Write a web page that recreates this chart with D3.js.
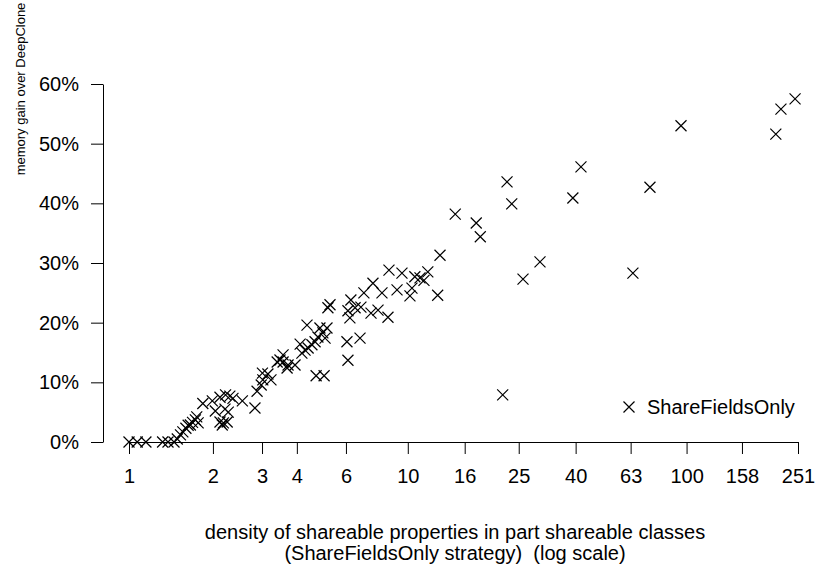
<!DOCTYPE html>
<html>
<head>
<meta charset="utf-8">
<script src="https://d3js.org/d3.v7.min.js"></script>
<style>
  body { margin: 0; background: #fff; }
  svg text { font-family: "Liberation Sans", Arial, sans-serif; fill: #000; white-space: pre; }
</style>
</head>
<body>
<svg id="chart" width="826" height="569"></svg>
<script>
// density of shareable properties (x, log scale)
var density = [1.0, 1.07, 1.15, 1.32, 1.38, 1.45, 1.49, 1.53, 1.56, 1.60,
  1.63, 1.66, 1.69, 1.73, 1.75, 1.77, 1.84, 1.99, 2.04, 2.12,
  2.22, 2.30, 2.36, 2.55, 2.21, 2.27, 2.12, 2.18, 2.25, 2.16,
  2.83, 2.88, 2.98, 3.01, 3.15, 3.23, 3.02, 3.40, 3.48, 3.57,
  3.57, 3.72, 3.69, 3.94, 4.11, 4.17, 4.28, 4.35, 4.39, 4.53,
  4.65, 4.76, 4.84, 4.96, 5.05, 5.13, 5.17, 5.26, 4.69, 5.01,
  6.05, 6.10, 6.74, 6.25, 6.10, 6.20, 6.47, 6.79, 6.96, 7.50,
  7.38, 7.82, 8.08, 8.49, 8.56, 9.53, 9.15, 10.18, 10.35, 10.6,
  11.06, 11.43, 11.8, 13.05, 12.8, 14.8, 17.6, 18.2, 22.7, 23.6,
  21.9, 25.9, 29.8, 39.1, 41.8, 64.2, 73.9, 95.5, 209, 218, 245];
// memory gain over DeepClone (%)
var gain = [0, 0, 0, 0, 0, 0, 0.5, 1.2, 1.7, 2.3,
  2.8, 2.85, 3.3, 3.7, 4.2, 3.2, 6.45, 6.9, 5.2, 7.5,
  7.9, 7.7, 7.3, 6.9, 5.5, 5.0, 3.35, 3.2, 3.35, 2.85,
  5.7, 8.5, 9.55, 11.55, 11.4, 10.4, 10.4, 13.4, 13.75, 14.6,
  13.4, 12.9, 12.4, 12.9, 16.4, 14.9, 15.4, 19.6, 15.75, 16.3,
  16.8, 17.6, 19.1, 18.3, 17.4, 19.1, 22.5, 23.0, 11.1, 11.1,
  16.8, 13.7, 17.4, 23.8, 22.0, 20.8, 22.5, 22.6, 25.0, 26.6,
  21.6, 22.1, 25.0, 20.9, 28.8, 28.3, 25.5, 24.5, 25.8, 27.7,
  27.5, 27.1, 28.5, 31.3, 24.6, 38.2, 36.7, 34.4, 43.6, 39.9,
  7.9, 27.3, 30.2, 40.9, 46.1, 28.3, 42.7, 53.0, 51.6, 55.8, 57.5];

var xTicks = [1, 2, 3, 4, 6, 10, 16, 25, 40, 63, 100, 158, 251];
var yTicks = [0, 10, 20, 30, 40, 50, 60];

var svg = d3.select("#chart");

var x = d3.scaleLog().domain([1, 251]).range([129, 798]);
var y = d3.scaleLinear().domain([0, 60]).range([442, 84]);

svg.append("g")
  .attr("transform", "translate(0,442)")
  .call(d3.axisBottom(x).tickValues(xTicks).tickFormat(d3.format("d"))
    .tickSize(12).tickSizeOuter(0).tickPadding(15));

svg.append("g")
  .attr("transform", "translate(103,0)")
  .call(d3.axisLeft(y).tickValues(yTicks).tickFormat(function(d) { return d + "%"; })
    .tickSize(12).tickSizeOuter(0).tickPadding(12));

svg.selectAll(".tick text").attr("font-size", 20).attr("font-family", "Liberation Sans, Arial, sans-serif");
svg.selectAll(".domain, .tick line").attr("stroke", "#000").attr("stroke-width", 1);

// crosses
var s = 5.5;
var cross = function(cx, cy) {
  return "M" + (cx - s) + "," + (cy - s) + "L" + (cx + s) + "," + (cy + s) +
    "M" + (cx - s) + "," + (cy + s) + "L" + (cx + s) + "," + (cy - s);
};

svg.append("g").selectAll("path")
  .data(density.map(function(d, i) { return [d, gain[i]]; }))
  .enter().append("path")
  .attr("d", function(d) { return cross(x(d[0]), y(d[1])); })
  .attr("stroke", "#000")
  .attr("stroke-width", 1.2)
  .attr("fill", "none");

// legend
svg.append("path").attr("d", cross(629, 407)).attr("stroke", "#000").attr("stroke-width", 1.2);
svg.append("text").attr("x", 647).attr("y", 414).attr("font-size", 20).text("ShareFieldsOnly");

// axis titles
svg.append("text").attr("x", 455).attr("y", 539).attr("font-size", 20)
  .attr("text-anchor", "middle")
  .text("density of shareable properties in part shareable classes");
svg.append("text").attr("x", 455).attr("y", 560).attr("font-size", 20)
  .attr("text-anchor", "middle")
  .text("(ShareFieldsOnly strategy)  (log scale)");

svg.append("text")
  .attr("transform", "translate(25,89) rotate(-90)")
  .attr("font-size", 13)
  .attr("text-anchor", "middle")
  .text("memory gain over DeepClone");
</script>
</body>
</html>
